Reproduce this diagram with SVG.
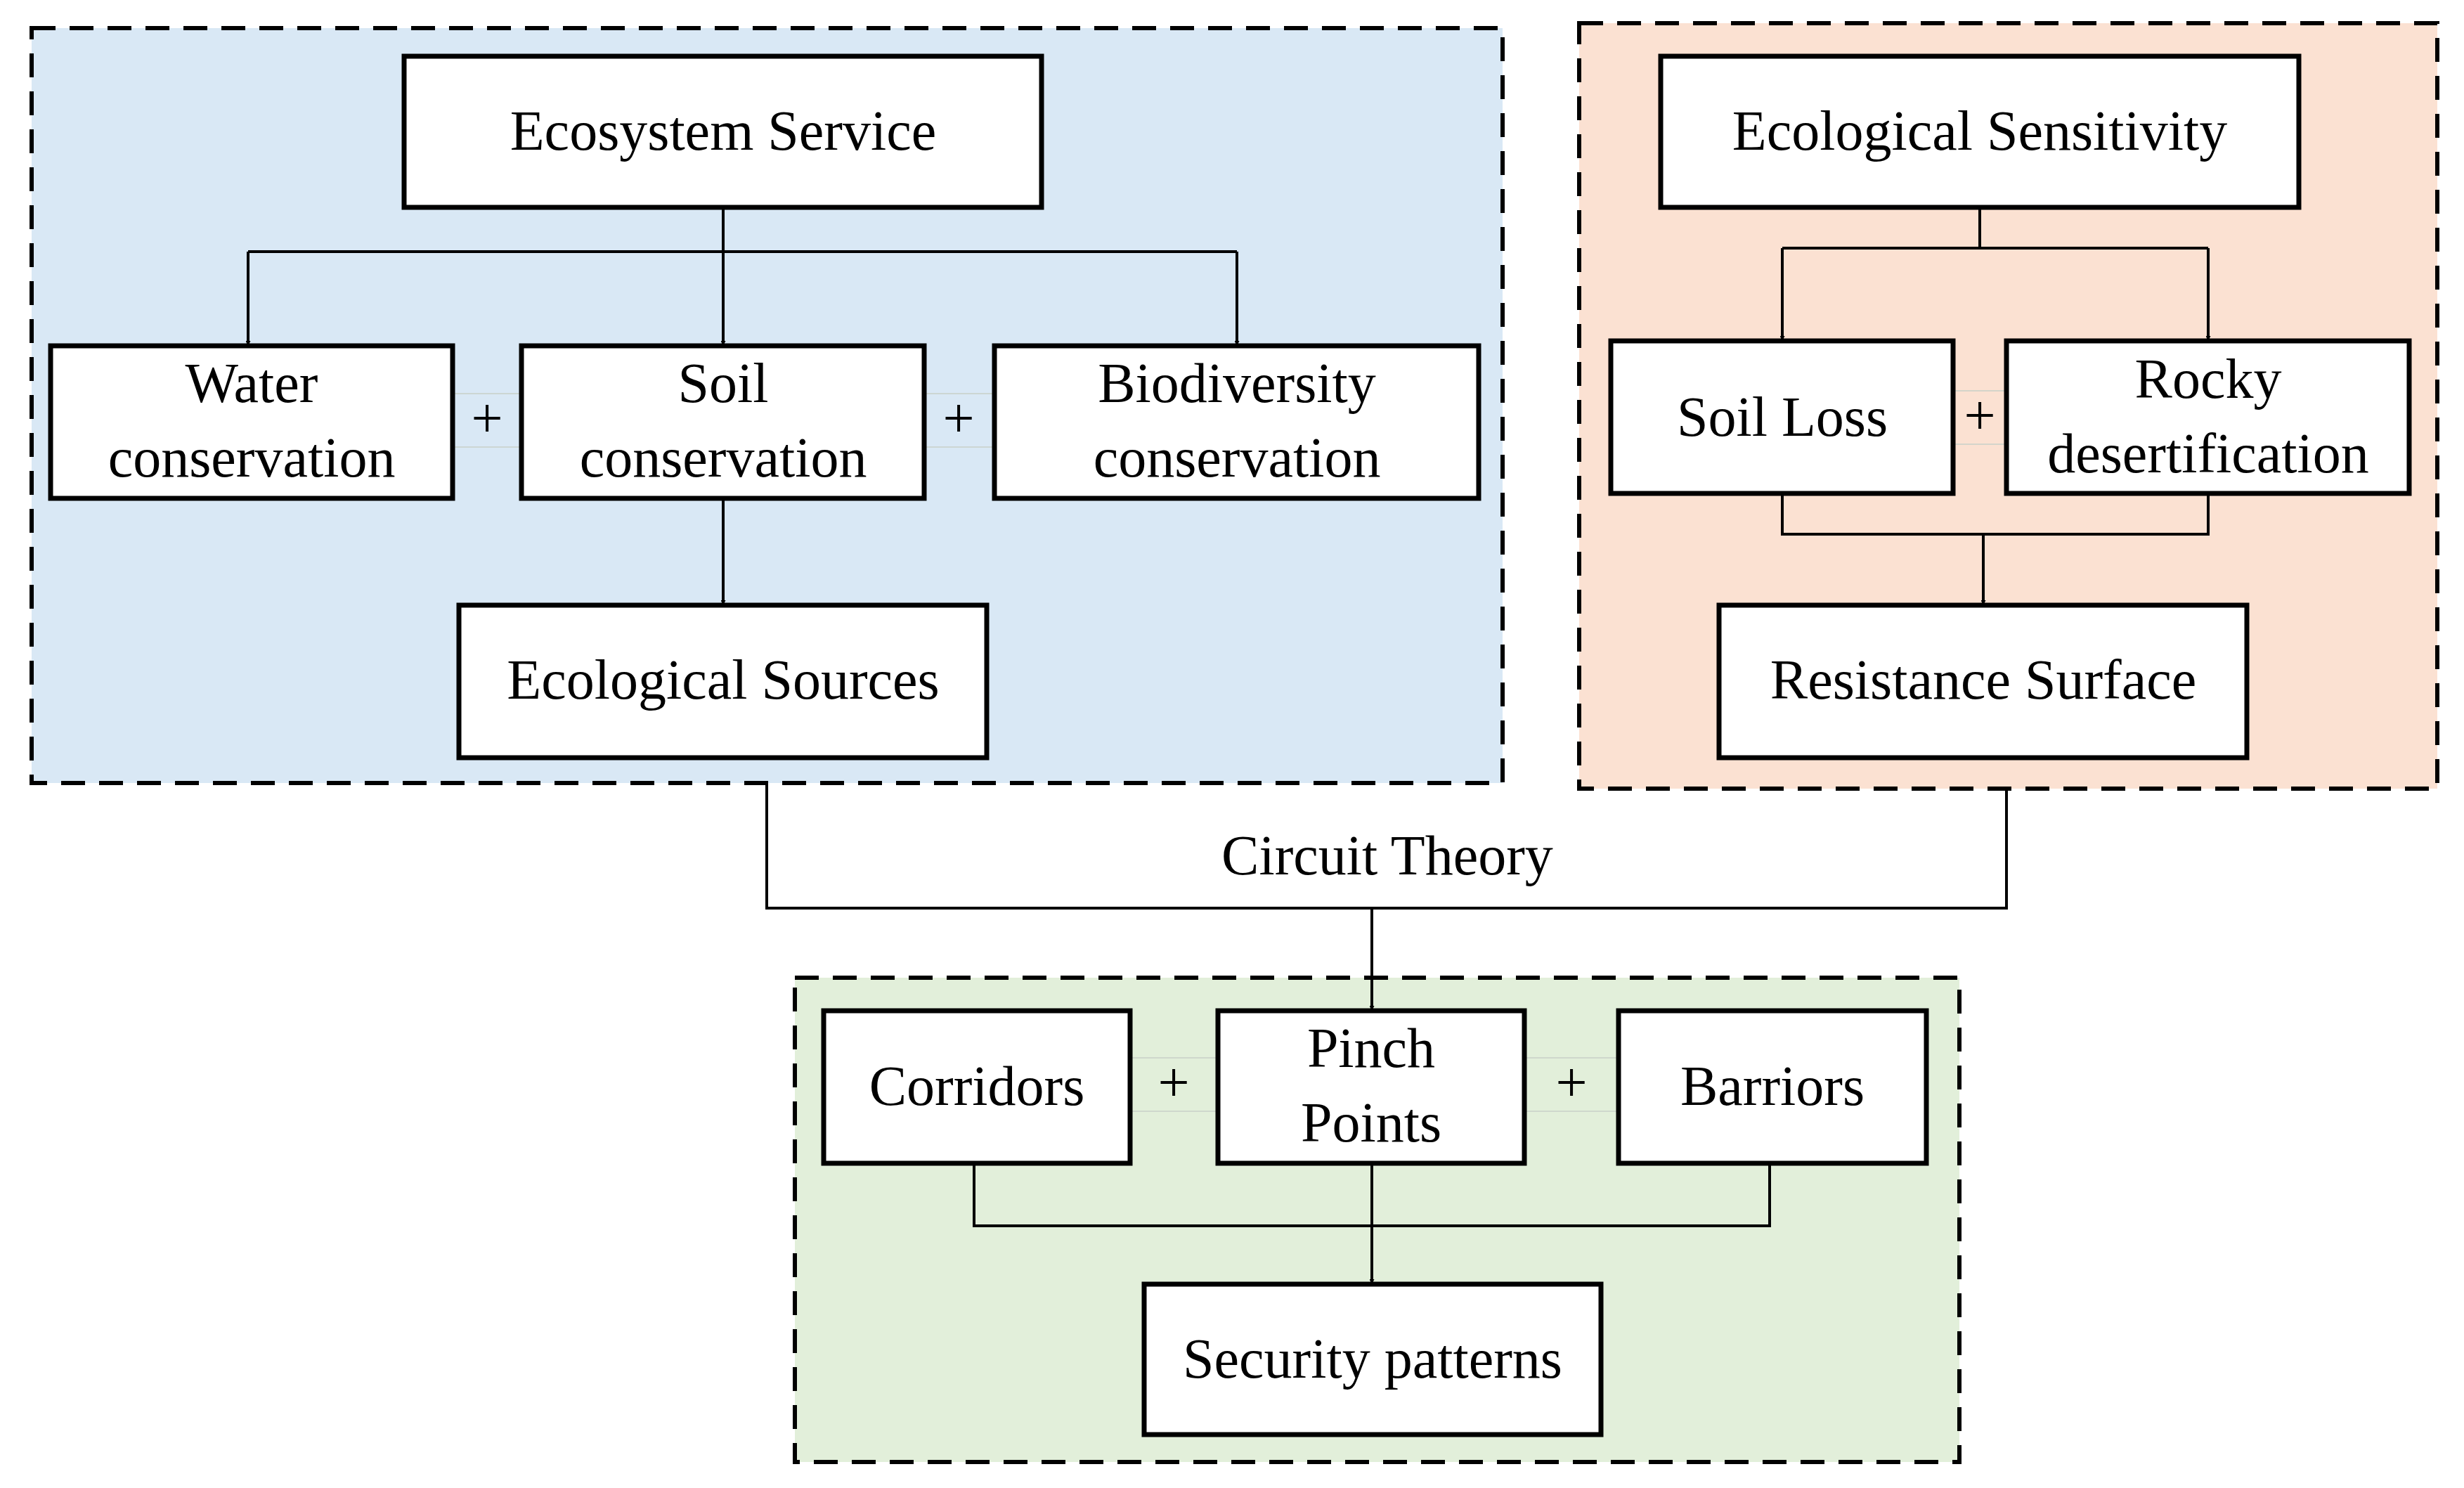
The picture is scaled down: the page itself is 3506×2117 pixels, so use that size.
<svg xmlns="http://www.w3.org/2000/svg" width="3506" height="2117" viewBox="0 0 3506 2117">
<defs>
<marker id="ar" viewBox="0 0 10 10" refX="10" refY="5" markerWidth="7" markerHeight="7" markerUnits="userSpaceOnUse" orient="auto"><path d="M0,0 L10,5 L0,10 z" fill="#000"/></marker>
<style>
.grp{stroke:#000;stroke-width:6;stroke-dasharray:34 20}
.n rect{fill:#fff;stroke:#000;stroke-width:7}
text{font-family:"Liberation Serif","Times New Roman",serif;font-size:80px;text-anchor:middle;fill:#000}
.c path{fill:none;stroke:#000;stroke-width:4}
.plus rect{fill:none;stroke:#c8d0c8;stroke-width:1.5}
</style>
</defs>
<rect width="3506" height="2117" fill="#fff"/>
<rect class="grp" x="45" y="40" width="2093" height="1074" fill="#d9e8f5"/>
<rect class="grp" x="2247" y="33" width="1221" height="1089" fill="#fbe1d2"/>
<rect class="grp" x="1131" y="1391" width="1657" height="689" fill="#e2efda"/>
<g class="c">
<path d="M1029,295 V492" marker-end="url(#ar)" style="stroke-width:4" />
<path d="M353,358 H1760" />
<path d="M353,358 V492" marker-end="url(#ar)"/>
<path d="M1760,358 V492" marker-end="url(#ar)"/>
<path d="M1029,709 V861" marker-end="url(#ar)"/>
<path d="M2817,295 V353 M2536,353 H3142"/>
<path d="M2536,353 V485" marker-end="url(#ar)"/>
<path d="M3142,353 V485" marker-end="url(#ar)"/>
<path d="M2536,702 V760 H3142 V702"/>
<path d="M2822,760 V861" marker-end="url(#ar)"/>
<path d="M1091,1114 V1292 H2855 V1122"/>
<path d="M1952,1292 V1438" marker-end="url(#ar)"/>
<path d="M1386,1655 V1744 H2518 V1655"/>
<path d="M1952,1655 V1827" marker-end="url(#ar)"/>
</g>
<text x="1974" y="1244">Circuit Theory</text>
<g class="plus">
<rect x="645" y="560" width="96" height="76"/><text x="693" y="622">+</text>
<rect x="1316" y="560" width="98" height="76"/><text x="1364" y="622">+</text>
<rect x="2780" y="556" width="74" height="76"/><text x="2817" y="618">+</text>
<rect x="1609" y="1505" width="123" height="76"/><text x="1670" y="1567">+</text>
<rect x="2170" y="1505" width="132" height="76"/><text x="2236" y="1567">+</text>
</g>
<g id="ecosystem-service" class="n"><rect x="575" y="80" width="907" height="215"/><text x="1029" y="213">Ecosystem Service</text></g>
<g id="water" class="n"><rect x="72" y="492" width="572" height="217"/><text x="358" y="572">Water</text><text x="358" y="678">conservation</text></g>
<g id="soil" class="n"><rect x="742" y="492" width="573" height="217"/><text x="1029" y="572">Soil</text><text x="1029" y="678">conservation</text></g>
<g id="biodiversity" class="n"><rect x="1415" y="492" width="689" height="217"/><text x="1760" y="572">Biodiversity</text><text x="1760" y="678">conservation</text></g>
<g id="ecological-sources" class="n"><rect x="653" y="861" width="751" height="217"/><text x="1029" y="994">Ecological Sources</text></g>
<g id="ecological-sensitivity" class="n"><rect x="2363" y="80" width="908" height="215"/><text x="2817" y="213">Ecological Sensitivity</text></g>
<g id="soil-loss" class="n"><rect x="2292" y="485" width="487" height="217"/><text x="2536" y="620">Soil Loss</text></g>
<g id="rocky" class="n"><rect x="2855" y="485" width="573" height="217"/><text x="3142" y="566">Rocky</text><text x="3142" y="672">desertification</text></g>
<g id="resistance-surface" class="n"><rect x="2446" y="861" width="751" height="217"/><text x="2822" y="994">Resistance Surface</text></g>
<g id="corridors" class="n"><rect x="1172" y="1438" width="436" height="217"/><text x="1390" y="1572">Corridors</text></g>
<g id="pinch-points" class="n"><rect x="1733" y="1438" width="436" height="217"/><text x="1951" y="1518">Pinch</text><text x="1951" y="1624">Points</text></g>
<g id="barriors" class="n"><rect x="2303" y="1438" width="438" height="217"/><text x="2522" y="1572">Barriors</text></g>
<g id="security-patterns" class="n"><rect x="1628" y="1827" width="650" height="214"/><text x="1953" y="1960">Security patterns</text></g>
</svg>
